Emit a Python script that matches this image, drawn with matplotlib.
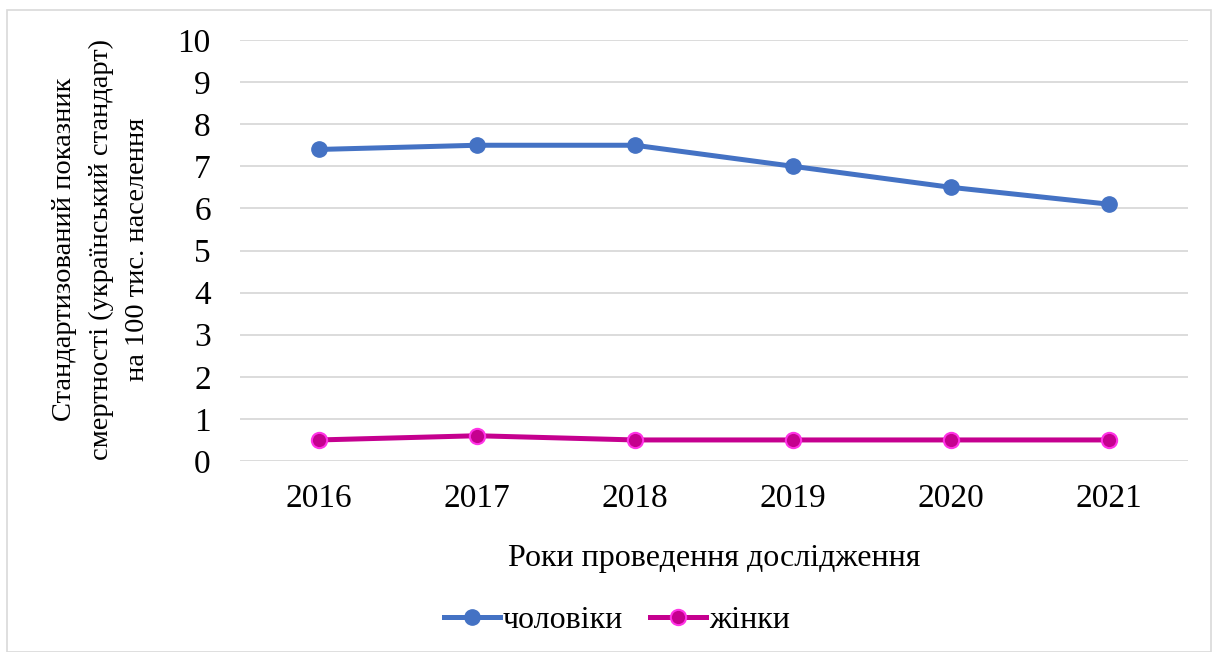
import matplotlib.pyplot as plt
import matplotlib.patches as mpatches

years = ['2016', '2017', '2018', '2019', '2020', '2021']
men = [7.4, 7.5, 7.5, 7.0, 6.5, 6.1]
women = [0.5, 0.6, 0.5, 0.5, 0.5, 0.5]

plt.rcParams['font.family'] = ['Liberation Serif', 'DejaVu Serif']

fig = plt.figure(figsize=(12.12, 6.52), dpi=100)
ax = fig.add_axes([240 / 1212, 1 - 461 / 652, 948 / 1212, 421 / 652])

x = range(len(years))
ax.plot(x, men, color='#4472C4', linewidth=3.6, marker='o', markersize=11,
        markerfacecolor='#4472C4', markeredgecolor='#4472C4', label='чоловіки')
ax.plot(x, women, color='#C5008F', linewidth=3.6, marker='o', markersize=11,
        markerfacecolor='#C5008F', markeredgecolor='#FF33E6', markeredgewidth=1.5,
        label='жінки')

ax.set_xlim(-0.5, len(years) - 0.5)
ax.set_ylim(0, 10)
ax.set_yticks(range(0, 11))
ax.set_xticks(list(x))
ax.set_xticklabels(years)
ax.tick_params(labelsize=24, length=0)
ax.tick_params(axis='x', pad=16)
ax.tick_params(axis='y', pad=21)
ax.grid(axis='y', color='#D9D9D9', linewidth=1.3)
ax.set_axisbelow(True)
for s in ax.spines.values():
    s.set_visible(False)

ax.set_xlabel('Роки проведення дослідження', fontsize=23, labelpad=22)
fig.text(101 / 1212, 1 - 249 / 652,
         'Стандартизований показник\nсмертності (український стандарт)\nна 100 тис. населення',
         rotation=90, ha='center', va='center', fontsize=20.5, multialignment='center',
         linespacing=1.6)

fig.legend(loc='center', bbox_to_anchor=(617 / 1212, 1 - 620 / 652), ncol=2,
           fontsize=23, frameon=False, handlelength=1.75, handletextpad=0.1,
           columnspacing=0.85)

fig.patches.append(mpatches.Rectangle((7 / 1212, 0), 1204 / 1212, 1 - 10 / 652,
                                      transform=fig.transFigure, fill=False,
                                      edgecolor='#D9D9D9', linewidth=1.2))

fig.savefig('out.png', dpi=100)
